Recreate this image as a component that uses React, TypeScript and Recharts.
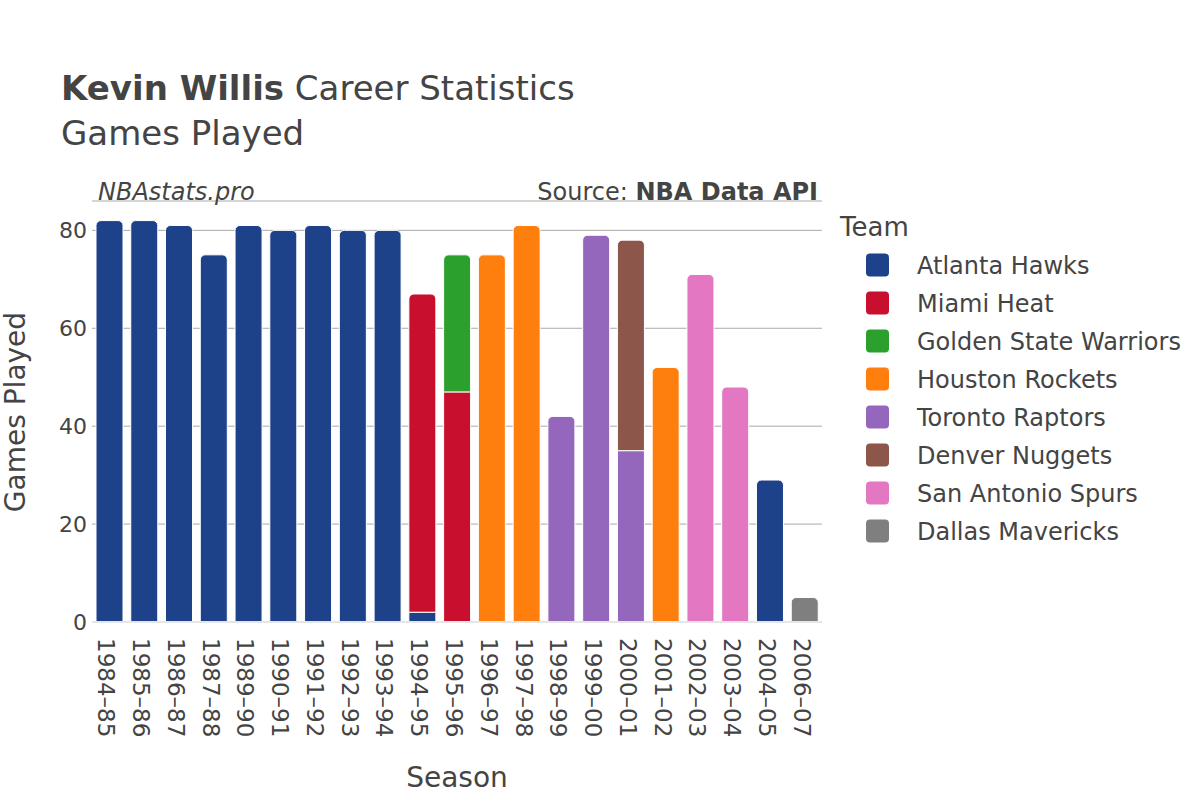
import React from 'react';
import { BarChart, Bar, XAxis, YAxis, CartesianGrid, ReferenceLine } from 'recharts';

const FONT = '"DejaVu Sans", sans-serif';
const TEXT = '#444';

const seasons = [
  '1984–85', '1985–86', '1986–87', '1987–88', '1989–90', '1990–91', '1991–92',
  '1992–93', '1993–94', '1994–95', '1995–96', '1996–97', '1997–98', '1998–99',
  '1999–00', '2000–01', '2001–02', '2002–03', '2003–04', '2004–05', '2006–07',
];

const teams = [
  'Atlanta Hawks', 'Miami Heat', 'Golden State Warriors', 'Houston Rockets',
  'Toronto Raptors', 'Denver Nuggets', 'San Antonio Spurs', 'Dallas Mavericks',
];
const teamColors = ['#1d428a', '#c8102e', '#2ca02c', '#ff7f0e', '#9467bd', '#8c564b', '#e377c2', '#7f7f7f'];

// games played per season, one list per team (0 = not with that team)
const atlantaHawks = [82, 82, 81, 75, 81, 80, 81, 80, 80, 2, 0, 0, 0, 0, 0, 0, 0, 0, 0, 29, 0];
const miamiHeat = [0, 0, 0, 0, 0, 0, 0, 0, 0, 65, 47, 0, 0, 0, 0, 0, 0, 0, 0, 0, 0];
const goldenState = [0, 0, 0, 0, 0, 0, 0, 0, 0, 0, 28, 0, 0, 0, 0, 0, 0, 0, 0, 0, 0];
const houstonRockets = [0, 0, 0, 0, 0, 0, 0, 0, 0, 0, 0, 75, 81, 0, 0, 0, 52, 0, 0, 0, 0];
const torontoRaptors = [0, 0, 0, 0, 0, 0, 0, 0, 0, 0, 0, 0, 0, 42, 79, 35, 0, 0, 0, 0, 0];
const denverNuggets = [0, 0, 0, 0, 0, 0, 0, 0, 0, 0, 0, 0, 0, 0, 0, 43, 0, 0, 0, 0, 0];
const sanAntonioSpurs = [0, 0, 0, 0, 0, 0, 0, 0, 0, 0, 0, 0, 0, 0, 0, 0, 0, 71, 48, 0, 0];
const dallasMavericks = [0, 0, 0, 0, 0, 0, 0, 0, 0, 0, 0, 0, 0, 0, 0, 0, 0, 0, 0, 0, 5];

const gamesByTeam = [
  atlantaHawks, miamiHeat, goldenState, houstonRockets,
  torontoRaptors, denverNuggets, sanAntonioSpurs, dallasMavericks,
];

const yTicks = [0, 20, 40, 60, 80];

const data = seasons.map((season, i) => {
  const row: any = { season };
  teams.forEach((team, t) => {
    row[team] = gamesByTeam[t][i];
  });
  return row;
});

// only the top segment of each stack gets rounded corners
const segmentShape = (teamIndex: number) => (props: any) => {
  const { x, width, fill, payload } = props;
  let { y, height } = props;
  if (!height || !payload || !payload[teams[teamIndex]]) return null;
  if (height < 0) {
    y = y + height;
    height = -height;
  }
  const isTop = teams.slice(teamIndex + 1).every((k) => !payload[k]);
  let d: string;
  if (isTop) {
    const r = Math.min(5, width / 2, height);
    d = `M${x},${y + height} L${x},${y + r} A${r},${r} 0 0 1 ${x + r},${y} L${x + width - r},${y} A${r},${r} 0 0 1 ${x + width},${y + r} L${x + width},${y + height} Z`;
  } else {
    d = `M${x},${y + height} L${x},${y} L${x + width},${y} L${x + width},${y + height} Z`;
  }
  return <path d={d} fill={fill} stroke="#fff" strokeWidth={1} />;
};

const SeasonTick = ({ x, y, payload }: any) => (
  <g transform={`translate(${x},${622})`}>
    <text
      transform="rotate(90)"
      x={16}
      y={0}
      dy={11}
      textAnchor="start"
      fontSize={23}
      fontFamily={FONT}
      fill={TEXT}
    >
      {payload.value}
    </text>
  </g>
);

export default function App() {
  return (
    <div style={{ position: 'absolute', left: 0, top: 0, width: 1200, height: 800, background: '#fff', fontFamily: FONT }}>
      <BarChart
        width={1200}
        height={800}
        data={data}
        margin={{ top: 201, right: 378, left: 32, bottom: 48 }}
        barSize={27}
      >
        <CartesianGrid vertical={false} stroke="#aaaaaa" strokeWidth={1} />
        <XAxis
          dataKey="season"
          interval={0}
          height={130}
          tickLine={false}
          axisLine={false}
          tick={<SeasonTick />}
        />
        <YAxis
          width={60}
          domain={[0, 86]}
          ticks={yTicks}
          tickLine={false}
          axisLine={false}
          tickSize={0}
          tickMargin={5}
          tick={{ fill: TEXT, fontSize: 22, fontFamily: FONT }}
        />
        {teams.map((team, t) => (
          <Bar
            key={team}
            dataKey={team}
            stackId="games"
            fill={teamColors[t]}
            shape={segmentShape(t)}
            isAnimationActive={false}
          />
        ))}
        <ReferenceLine y={0} stroke="#e6e6e6" strokeWidth={2} />
      </BarChart>

      <svg
        width={1200}
        height={800}
        style={{ position: 'absolute', left: 0, top: 0, pointerEvents: 'none' }}
        fontFamily={FONT}
      >
        <text x={61} y={100} fontSize={34} fill={TEXT}>
          <tspan fontWeight="bold">Kevin Willis</tspan> Career Statistics
        </text>
        <text x={61} y={145} fontSize={34} fill={TEXT}>Games Played</text>
        <text x={98} y={200} fontSize={24} fontStyle="italic" fill={TEXT}>NBAstats.pro</text>
        <text x={818} y={200} fontSize={24} textAnchor="end" fill={TEXT}>
          Source: <tspan fontWeight="bold">NBA Data API</tspan>
        </text>

        <text x={457} y={787} fontSize={28} textAnchor="middle" fill={TEXT}>Season</text>
        <text transform="translate(25,412) rotate(-90)" fontSize={28} textAnchor="middle" fill={TEXT}>
          Games Played
        </text>

        <text x={840} y={236} fontSize={26} fill={TEXT}>Team</text>
        {teams.map((team, t) => (
          <g key={team}>
            <rect x={866} y={265 + t * 38 - 11.5} width={23} height={23} rx={4} fill={teamColors[t]} />
            <text x={917} y={265 + t * 38 + 8.5} fontSize={24} fill={TEXT}>{team}</text>
          </g>
        ))}
      </svg>
    </div>
  );
}
